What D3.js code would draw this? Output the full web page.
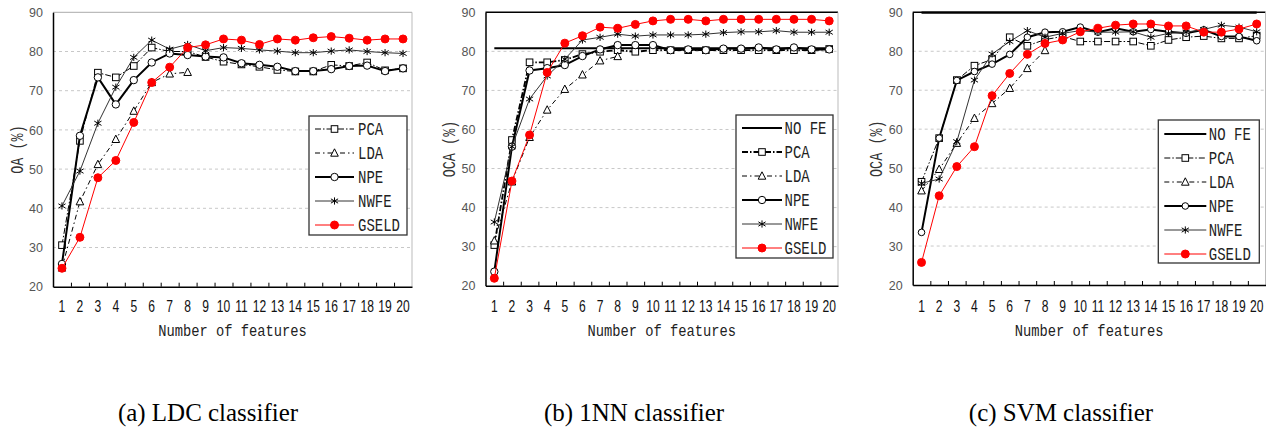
<!DOCTYPE html>
<html>
<head>
<meta charset="utf-8">
<script src="https://cdn.jsdelivr.net/npm/d3@7"></script>
<style>
body { margin: 0; background: #fff; }
text { font-family: "Liberation Sans", Arial, sans-serif; }
</style>
</head>
<body>
<div id="viz"></div>
<script>

var width = 1270;
var height = 430;

// Data //

var features = [1, 2, 3, 4, 5, 6, 7, 8, 9, 10, 11, 12, 13, 14, 15, 16, 17, 18, 19, 20];
var yTicks = [20, 30, 40, 50, 60, 70, 80, 90];
var ldaFeatures = [1, 2, 3, 4, 5, 6, 7, 8];

// (a) LDC classifier
var pcaA   = [30.6, 57.2, 74.6, 73.4, 76.3, 81.0, 80.0, 80.0, 78.6, 77.4, 76.7, 76.1, 75.3, 74.9, 74.9, 76.6, 76.3, 77.2, 75.2, 75.7];
var ldaA   = [24.8, 41.7, 51.2, 57.6, 64.8, 72.1, 74.3, 74.7];
var npeA   = [25.8, 58.5, 73.4, 66.5, 72.7, 77.2, 79.5, 79.1, 78.7, 78.5, 77.0, 76.6, 76.1, 75.0, 75.0, 75.5, 76.3, 76.4, 75.0, 75.7];
var nwfeA  = [40.6, 49.5, 61.7, 70.9, 78.5, 82.9, 80.6, 81.8, 80.2, 81.0, 80.8, 80.4, 80.1, 79.7, 79.7, 80.1, 80.4, 80.0, 79.7, 79.5];
var gseldA = [24.7, 32.6, 47.8, 52.2, 61.9, 72.1, 76.0, 81.0, 81.7, 83.2, 82.9, 81.8, 83.2, 82.9, 83.5, 83.8, 83.4, 82.9, 83.2, 83.2];

// (b) 1NN classifier
var noFeB  = [80.8, 80.8, 80.8, 80.8, 80.8, 80.8, 80.8, 80.8, 80.8, 80.8, 80.8, 80.8, 80.8, 80.8, 80.8, 80.8, 80.8, 80.8, 80.8, 80.8];
var pcaB   = [30.4, 57.3, 77.2, 77.2, 77.8, 79.3, 79.9, 80.3, 79.9, 80.3, 80.3, 80.3, 80.3, 80.3, 80.3, 80.3, 80.3, 80.3, 80.3, 80.6];
var ldaB   = [31.5, 46.6, 58.0, 65.0, 70.3, 74.0, 77.6, 78.7];
var npeB   = [23.6, 55.6, 75.1, 75.7, 76.5, 78.8, 80.5, 81.6, 81.6, 81.6, 80.3, 80.5, 80.3, 80.7, 80.7, 81.0, 80.5, 81.0, 80.5, 80.5];
var nwfeB  = [36.3, 55.6, 67.8, 73.7, 78.0, 82.9, 83.6, 84.4, 83.9, 84.2, 84.2, 84.2, 84.4, 84.8, 85.0, 85.0, 85.3, 84.9, 84.9, 84.9];
var gseldB = [21.9, 46.8, 58.6, 74.6, 82.1, 84.0, 86.2, 85.9, 86.9, 87.8, 88.2, 88.2, 87.8, 88.2, 88.2, 88.2, 88.2, 88.2, 88.2, 87.8];

// (c) SVM classifier
var noFeC  = [89.9, 89.9, 89.9, 89.9, 89.9, 89.9, 89.9, 89.9, 89.9, 89.9, 89.9, 89.9, 89.9, 89.9, 89.9, 89.9, 89.9, 89.9, 89.9, 89.9];
var pcaC   = [46.5, 57.7, 72.6, 76.3, 77.9, 83.6, 81.4, 83.0, 83.8, 82.5, 82.5, 82.5, 82.5, 81.4, 82.9, 83.6, 83.9, 83.3, 83.3, 84.0];
var ldaC   = [44.2, 49.7, 56.4, 62.8, 66.6, 70.5, 75.6, 80.2];
var npeC   = [33.5, 57.7, 72.5, 74.8, 76.7, 79.2, 83.6, 84.9, 85.0, 86.2, 84.9, 85.9, 85.0, 85.6, 85.0, 84.6, 85.5, 83.8, 83.8, 82.7];
var nwfeC  = [46.1, 47.2, 56.8, 72.6, 79.3, 82.5, 85.3, 83.6, 84.6, 85.3, 84.9, 84.9, 85.0, 83.6, 84.6, 84.9, 85.6, 86.7, 86.2, 85.0];
var gseldC = [25.8, 42.9, 50.4, 55.5, 68.6, 74.3, 79.2, 82.0, 82.9, 85.0, 85.9, 86.7, 87.0, 87.0, 86.5, 86.5, 84.9, 84.9, 85.7, 87.0];

// Series styles //

var styles = {
   "NO FE": { stroke: "#000", width: 2.2, dash: null, marker: "none" },
   "PCA":   { stroke: "#000", width: 1, dash: "6,2,1.5,2", marker: "square" },
   "LDA":   { stroke: "#000", width: 1, dash: "5,3,1.5,3", marker: "triangle" },
   "NPE":   { stroke: "#000", width: 2, dash: null, marker: "circle" },
   "NWFE":  { stroke: "#333", width: 1, dash: null, marker: "star" },
   "GSELD": { stroke: "#ff0000", width: 1, dash: null, marker: "dot" }
};

var panels = [
   {
      left: 53, right: 412, top: 12.3, bottom: 286.7, topColor: "#aaa",
      yTitle: "OA (%)", titleX: 23, caption: "(a) LDC classifier", capX: 208,
      legend: { x: 309, y: 116, w: 98, h: 119, first: 13, l0: 6, l1: 45, tx: 49 },
      series: [
         { name: "PCA", x: features, v: pcaA },
         { name: "LDA", x: ldaFeatures, v: ldaA },
         { name: "NPE", x: features, v: npeA },
         { name: "NWFE", x: features, v: nwfeA },
         { name: "GSELD", x: features, v: gseldA }
      ]
   },
   {
      left: 485.5, right: 838, top: 12.3, bottom: 285.7, topColor: "#000",
      yTitle: "OCA (%)", titleX: 455, caption: "(b) 1NN classifier", capX: 634, pcaBold: true,
      legend: { x: 736, y: 115, w: 97, h: 143, first: 13, l0: 6, l1: 46, tx: 48.5 },
      series: [
         { name: "NO FE", x: features, v: noFeB },
         { name: "PCA", x: features, v: pcaB },
         { name: "LDA", x: ldaFeatures, v: ldaB },
         { name: "NPE", x: features, v: npeB },
         { name: "NWFE", x: features, v: nwfeB },
         { name: "GSELD", x: features, v: gseldB }
      ]
   },
   {
      left: 912.7, right: 1265.5, top: 12.3, bottom: 285, topColor: "#000",
      yTitle: "OCA (%)", titleX: 882, caption: "(c) SVM classifier", capX: 1061, small: true,
      legend: { x: 1158.3, y: 120, w: 101, h: 143, first: 14, l0: 6, l1: 48, tx: 50.5 },
      series: [
         { name: "NO FE", x: features, v: noFeC },
         { name: "PCA", x: features, v: pcaC },
         { name: "LDA", x: ldaFeatures, v: ldaC },
         { name: "NPE", x: features, v: npeC },
         { name: "NWFE", x: features, v: nwfeC },
         { name: "GSELD", x: features, v: gseldC }
      ]
   }
];

var svg = d3.select("#viz").append("svg")
   .attr("width", width)
   .attr("height", height);

// tall, narrow text like the original figure
function tallText(g, x, y, str, size, sx, sy, anchor, family, fill) {
   return g.append("text")
      .attr("transform", "translate(" + x + "," + y + ") scale(" + sx + "," + sy + ")")
      .attr("text-anchor", anchor)
      .style("font-family", family)
      .style("font-size", size + "px")
      .style("fill", fill)
      .text(str);
}

function drawMarker(g, type, cx, cy, color, small) {
   var r = small ? 3.3 : 3.7;
   if (type == "square") {
      g.append("rect")
         .attr("x", cx - 3.3).attr("y", cy - 3.3)
         .attr("width", 6.6).attr("height", 6.6)
         .style("fill", "#fff").style("stroke", "#000").style("stroke-width", 1);
   } else if (type == "triangle") {
      g.append("path")
         .attr("d", "M" + cx + "," + (cy - 4.2) + "L" + (cx + 3.8) + "," + (cy + 3.2) + "L" + (cx - 3.8) + "," + (cy + 3.2) + "Z")
         .style("fill", "#fff").style("stroke", "#000").style("stroke-width", 1);
   } else if (type == "circle") {
      g.append("circle")
         .attr("cx", cx).attr("cy", cy).attr("r", r)
         .style("fill", "#fff").style("stroke", "#000").style("stroke-width", 1);
   } else if (type == "star") {
      var s = 3.6;
      g.append("path")
         .attr("d", "M" + cx + "," + (cy - s) + "V" + (cy + s) +
                    "M" + (cx - s) + "," + (cy - s * 0.6) + "L" + (cx + s) + "," + (cy + s * 0.6) +
                    "M" + (cx - s) + "," + (cy + s * 0.6) + "L" + (cx + s) + "," + (cy - s * 0.6))
         .style("fill", "none").style("stroke", "#000").style("stroke-width", 1);
   } else if (type == "dot") {
      g.append("circle")
         .attr("cx", cx).attr("cy", cy).attr("r", 4)
         .style("fill", color).style("stroke", color);
   }
}

function drawPanel(p) {
   var g = svg.append("g");
   var x = d3.scaleLinear().domain([0.5, 20.5]).range([p.left, p.right]);
   var y = d3.scaleLinear().domain([20, 90]).range([p.bottom, p.top]);

   // grid
   g.selectAll(".grid")
      .data(yTicks.slice(1, yTicks.length - 1))
      .enter().append("line")
      .attr("x1", p.left).attr("x2", p.right)
      .attr("y1", function(d) { return y(d); })
      .attr("y2", function(d) { return y(d); })
      .style("stroke", "#c8c8c8")
      .style("stroke-dasharray", "3,3");

   // frame
   g.append("line").attr("x1", p.left).attr("x2", p.right).attr("y1", p.top).attr("y2", p.top)
      .style("stroke", p.topColor).style("stroke-width", p.topColor == "#000" ? 1.5 : 1);
   g.append("line").attr("x1", p.right).attr("x2", p.right).attr("y1", p.top).attr("y2", p.bottom)
      .style("stroke", "#bbb");

   // x axis, ticks between categories
   var xAxis = d3.axisBottom(x)
      .tickValues(d3.range(1.5, 20.5, 1))
      .tickSizeInner(-4).tickSizeOuter(0)
      .tickFormat("");
   var ax = g.append("g").attr("transform", "translate(0," + p.bottom + ")").call(xAxis);
   ax.select(".domain").style("stroke", "#000").style("stroke-width", 1.5);
   ax.selectAll(".tick line").style("stroke", "#000");

   var yAxis = d3.axisLeft(y).tickValues(yTicks).tickSize(0).tickFormat("");
   var ay = g.append("g").attr("transform", "translate(" + p.left + ",0)").call(yAxis);
   ay.select(".domain").style("stroke", "#000").style("stroke-width", 1.5);

   features.forEach(function(f) {
      tallText(g, x(f), 311.5, String(f), 13, 0.93, 1.25, "middle", "Liberation Sans", "#111");
   });
   yTicks.forEach(function(t) {
      tallText(g, p.left - 10, y(t) + 4.6, String(t), 12.5, 1, 1.05, "end", "Liberation Sans", "#555");
   });

   tallText(g, (p.left + p.right) / 2, 336, "Number of features", 13, 1.06, 1.3, "middle", "Liberation Mono", "#222");

   g.append("text")
      .attr("transform", "translate(" + p.titleX + "," + ((p.top + p.bottom) / 2) + ") rotate(-90) scale(1,1.3)")
      .attr("text-anchor", "middle")
      .style("font-family", "Liberation Mono")
      .style("font-size", "13.5px")
      .style("fill", "#333")
      .text(p.yTitle);

   // series
   var line = d3.line()
      .x(function(d) { return x(d[0]); })
      .y(function(d) { return y(d[1]); });

   p.series.forEach(function(s) {
      var st = styles[s.name];
      var pts = s.x.map(function(f, i) { return [f, s.v[i]]; });
      var w = st.width;
      if (s.name == "PCA" && p.pcaBold) w = 1.8;
      g.append("path")
         .attr("d", line(pts))
         .style("fill", "none")
         .style("stroke", st.stroke)
         .style("stroke-width", w)
         .style("stroke-dasharray", st.dash);
      pts.forEach(function(d) {
         drawMarker(g, st.marker, x(d[0]), y(d[1]), st.stroke, p.small);
      });
   });

   // legend
   var L = p.legend;
   g.append("rect")
      .attr("x", L.x).attr("y", L.y).attr("width", L.w).attr("height", L.h)
      .style("fill", "#fff").style("stroke", "#333").style("stroke-width", 1.3);
   p.series.forEach(function(s, i) {
      var st = styles[s.name];
      var cy = L.y + L.first + i * 24;
      var w = st.width;
      if (s.name == "PCA" && p.pcaBold) w = 1.8;
      g.append("line")
         .attr("x1", L.x + L.l0).attr("x2", L.x + L.l1)
         .attr("y1", cy).attr("y2", cy)
         .style("stroke", st.stroke)
         .style("stroke-width", w)
         .style("stroke-dasharray", st.dash);
      drawMarker(g, st.marker, L.x + (L.l0 + L.l1) / 2, cy, st.stroke, p.small);
      tallText(g, L.x + L.tx, cy + 6, s.name, 14, 1, 1.35, "start", "Liberation Mono", "#222");
   });

   // caption
   tallText(g, p.capX, 421, p.caption, 24, 1.04, 1.08, "middle", "Liberation Serif", "#000");
}

panels.forEach(drawPanel);

</script>
</body>
</html>
